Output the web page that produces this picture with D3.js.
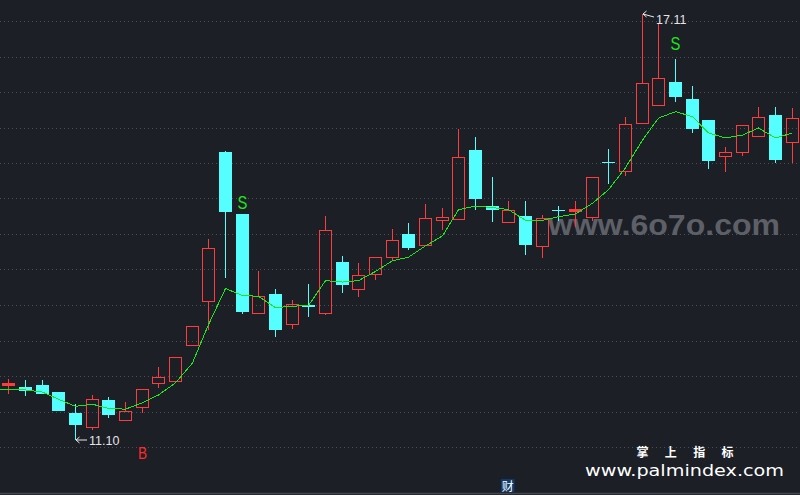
<!DOCTYPE html>
<html><head><meta charset="utf-8">
<script src="https://cdn.jsdelivr.net/npm/d3@7"></script>
<style>html,body{margin:0;padding:0;background:#1c1f26;overflow:hidden}svg{display:block}</style>
</head><body><svg id="c" width="800" height="495"></svg>
<script>
// ---- data ----
const opens  = [11.87,11.85,11.88,11.78,11.49,11.29,11.67,11.39,11.57,11.91,11.94,12.45,13.06,15.16,14.29,12.90,13.16,12.74,13.01,12.90,13.61,13.23,13.44,13.69,14.01,13.85,14.21,14.22,15.19,14.40,14.17,14.26,13.84,14.35,14.33,14.25,15.02,14.90,15.57,15.82,16.15,15.91,15.61,15.10,15.16,15.39,15.68,15.30];
const highs  = [11.97,11.95,11.95,11.78,11.61,11.74,11.71,11.64,11.82,12.13,12.27,12.71,13.94,15.18,14.29,13.49,13.23,13.08,13.30,14.26,13.70,13.60,13.69,14.08,14.16,14.43,14.37,15.49,15.37,14.81,14.47,14.47,14.27,14.40,14.47,14.81,15.20,15.65,17.11,16.97,16.47,16.09,15.61,15.23,15.54,15.80,15.80,15.78];
const lows   = [11.75,11.72,11.76,11.52,11.10,11.24,11.41,11.39,11.49,11.84,11.94,12.45,12.65,13.39,12.88,12.90,12.56,12.67,12.84,12.86,13.17,13.12,13.36,13.62,13.78,13.85,14.07,14.22,14.34,14.18,14.17,13.71,13.67,14.19,14.10,14.19,14.71,14.83,15.57,15.82,15.87,15.43,14.92,14.88,15.10,15.39,15.01,15.01];
const closes = [11.89,11.79,11.76,11.52,11.31,11.69,11.46,11.51,11.82,11.99,12.27,12.71,13.81,14.31,12.91,13.14,12.65,13.02,12.98,14.06,13.29,13.43,13.69,13.92,13.81,14.23,14.24,15.09,14.50,14.35,14.35,13.85,14.23,14.34,14.35,14.81,15.01,15.55,16.14,16.21,15.94,15.49,15.04,15.16,15.54,15.66,15.05,15.64];
const ma     = [11.81,11.81,11.78,11.68,11.58,11.61,11.55,11.54,11.63,11.74,11.91,12.19,12.73,13.24,13.14,13.13,12.97,12.99,13.00,13.35,13.33,13.35,13.48,13.63,13.68,13.84,13.98,14.35,14.40,14.38,14.35,14.20,14.20,14.25,14.29,14.44,14.63,14.94,15.33,15.64,15.73,15.66,15.43,15.36,15.40,15.50,15.36,15.43];
const gridTicks = [11,11.5,12,12.5,13,13.5,14,14.5,15,15.5,16,16.5,17];
const signalIdx   = [8, 14, 40];
const signalText  = ["B","S","S"];
const signalPrice = [10.92, 14.44, 16.69];
const watermark1 = "www.6o7o.com";
const brandCn = "掌 上 指 标";
const brandUrl = "www.palmindex.com";
const footer = "财";

// ---- scales ----
const N = opens.length;
const W = 800, H = 495;
const svg = d3.select("#c");
const x = d3.scaleBand().domain(d3.range(N)).range([0, W]).paddingInner(0.25).paddingOuter(0.125);
const y = d3.scaleLinear().domain([11, 17]).range([447.5, 21.5]);
const cx = i => Math.round(x(i) + x.bandwidth() / 2);
const RED = "#ff3c3c", CYAN = "#55ffff", GREEN = "#1ee61e";

svg.append("rect").attr("width", W).attr("height", H).attr("fill", "#1c1f26");

// grid
svg.append("g").selectAll("line").data(gridTicks).join("line")
  .attr("x1", 0).attr("x2", W)
  .attr("y1", d => Math.floor(y(d)) + 0.5).attr("y2", d => Math.floor(y(d)) + 0.5)
  .attr("stroke", "#4c4f57").attr("stroke-width", 1).attr("stroke-dasharray", "1 3");

// bottom border
svg.append("line").attr("x1", 0).attr("x2", W).attr("y1", 493.5).attr("y2", 493.5)
  .attr("stroke", "#44474f").attr("stroke-width", 1.5);

// watermark
svg.append("text").text(watermark1)
  .attr("x", 548).attr("y", 235)
  .attr("textLength", 232).attr("lengthAdjust", "spacingAndGlyphs")
  .attr("font-family", "Liberation Sans, Arial, sans-serif").attr("font-weight", "bold")
  .attr("font-size", 30).attr("fill", "#5d6066");

// candles
const g = svg.append("g").attr("shape-rendering", "crispEdges");
const idx = d3.range(N);
idx.forEach(i => {
  const c = cx(i);
  const up = closes[i] >= opens[i];
  const yH = Math.round(y(highs[i])), yL = Math.round(y(lows[i]));
  const yTop = Math.round(y(Math.max(opens[i], closes[i])));
  const yBot = Math.round(y(Math.min(opens[i], closes[i])));
  if (up) {
    if (yH < yTop) g.append("line").attr("x1", c + 0.5).attr("x2", c + 0.5).attr("y1", yH).attr("y2", yTop).attr("stroke", RED);
    if (yL > yBot) g.append("line").attr("x1", c + 0.5).attr("x2", c + 0.5).attr("y1", yBot).attr("y2", yL).attr("stroke", RED);
    if (yBot - yTop < 3) {
      g.append("rect").attr("x", c - 6).attr("y", yTop - 1).attr("width", 13).attr("height", Math.max(3, yBot - yTop + 1)).attr("fill", RED);
    } else {
      g.append("rect").attr("x", c - 5.5).attr("y", yTop + 0.5).attr("width", 12).attr("height", yBot - yTop)
        .attr("fill", "none").attr("stroke", RED).attr("stroke-width", 1);
    }
  } else {
    g.append("line").attr("x1", c + 0.5).attr("x2", c + 0.5).attr("y1", yH).attr("y2", yL).attr("stroke", CYAN);
    g.append("rect").attr("x", c - 6).attr("y", yTop).attr("width", 13).attr("height", Math.max(1, yBot - yTop)).attr("fill", CYAN);
  }
});

// moving average line
const line = d3.line().x(d => d.x).y(d => d.y);
const maPts = [{x: 0, y: y(ma[0])}].concat(idx.map(i => ({x: cx(i) + 0.5, y: y(ma[i])})));
svg.append("path").attr("d", line(maPts)).attr("fill", "none")
  .attr("shape-rendering", "crispEdges")
  .attr("stroke", GREEN).attr("stroke-width", 1);

// high / low annotations
const fmt = d3.format(".2f");
function annotate(i, price, dy, textDy) {
  const x0 = cx(i) + 1, y0 = Math.round(y(price));
  const ag = svg.append("g").attr("stroke", "#e8e8e8").attr("stroke-width", 1).attr("fill", "none");
  ag.append("line").attr("x1", x0).attr("y1", y0).attr("x2", x0 + 11).attr("y2", y0 + dy);
  ag.append("path").attr("d", `M${x0 + 3.5},${y0 - 3} L${x0},${y0} L${x0 + 3.5},${y0 + 3}`);
  svg.append("text").text(fmt(price)).attr("x", x0 + 13).attr("y", y0 + textDy)
    .attr("dominant-baseline", "central")
    .attr("font-family", "Liberation Sans, Arial, sans-serif").attr("font-size", 12.5)
    .attr("fill", "#e4e4e4");
}
const iLow = d3.minIndex(lows), iHigh = d3.maxIndex(highs);
annotate(iLow, lows[iLow], 0, 1);
annotate(iHigh, highs[iHigh], 3, 5.5);

// signals
signalIdx.forEach((i, k) => {
  const t = signalText[k];
  const isB = t === "B";
  svg.append("text").text(t)
    .attr("transform", `translate(${cx(i) + 0.5},${y(signalPrice[k])}) scale(${isB ? 0.85 : 0.8},1)`)
    .attr("text-anchor", "middle").attr("dominant-baseline", "central")
    .attr("font-family", "Liberation Sans, Arial, sans-serif")
    .attr("font-size", isB ? 16 : 18.5)
    .attr("fill", isB ? "#ff2a2a" : GREEN);
});

// brand watermark bottom right
svg.append("text").text(brandCn).attr("x", 636.5).attr("y", 451.5)
  .attr("textLength", 97).attr("lengthAdjust", "spacing")
  .attr("dominant-baseline", "central")
  .attr("font-family", "Noto Sans CJK SC, sans-serif").attr("font-weight", "bold")
  .attr("font-size", 12).attr("fill", "#ffffff");
svg.append("text").text(brandUrl).attr("x", 585).attr("y", 476)
  .attr("textLength", 199).attr("lengthAdjust", "spacingAndGlyphs")
  .attr("font-family", "DejaVu Sans, Verdana, sans-serif")
  .attr("font-size", 16.5).attr("fill", "#ffffff");

// footer tag
svg.append("rect").attr("x", 501).attr("y", 479).attr("width", 13.5).attr("height", 13).attr("fill", "#0f3a6b");
svg.append("text").text(footer).attr("x", 507.75).attr("y", 485.8)
  .attr("text-anchor", "middle").attr("dominant-baseline", "central")
  .attr("font-family", "Noto Sans CJK SC, sans-serif").attr("font-size", 12).attr("fill", "#ffffff");
</script>
</body></html>
